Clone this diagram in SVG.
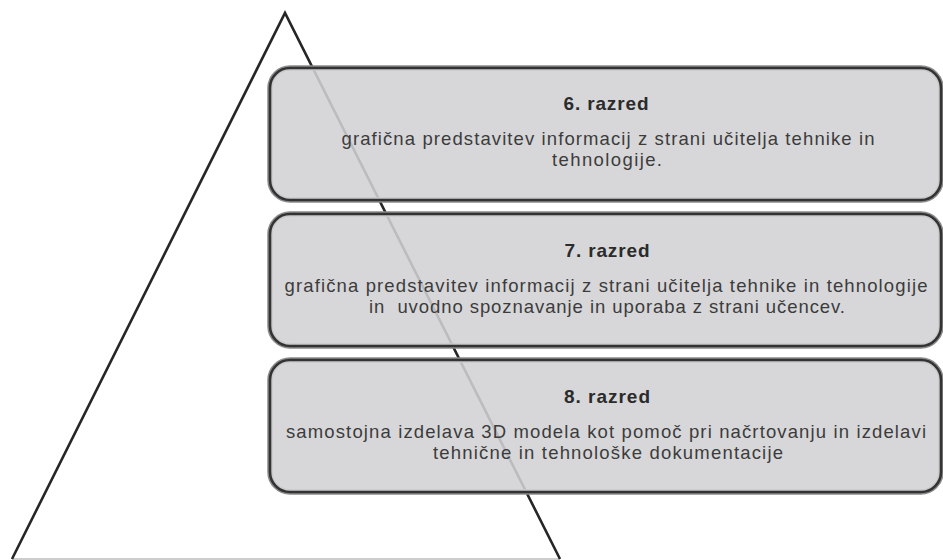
<svg xmlns="http://www.w3.org/2000/svg" width="943" height="560" viewBox="0 0 943 560">
<style>
.tri{fill:none;stroke:#262626;stroke-width:2.6;stroke-linejoin:miter}
.base{stroke:#bdbdbd;stroke-width:1.6}
.halo{fill:none;stroke:#8c8c8c;stroke-width:5.5}
.box{fill:#d1d2d4;fill-opacity:0.88;stroke:#333;stroke-width:2.6}
.t{font-family:"Liberation Sans",Arial,sans-serif;text-anchor:middle;fill:#3c3c3c}
.h{font-size:19px;font-weight:bold;fill:#2b2b2b}
.b{font-size:18.5px}
</style>
<g id="pyramid">
<line class="base" x1="12" y1="559" x2="560" y2="559"/>
<polyline class="tri" points="12,559 285,13 560,559"/>
</g>
<g id="box6">
<rect class="halo" x="270" y="68" width="671" height="132" rx="20"/>
<rect class="box" x="270" y="68" width="671" height="132" rx="20"/>
<text class="t h" x="606" y="110" textLength="85" lengthAdjust="spacing">6. razred</text>
<text class="t b" x="608" y="145" textLength="533" lengthAdjust="spacing">grafična predstavitev informacij z strani učitelja tehnike in</text>
<text class="t b" x="607" y="166" textLength="110" lengthAdjust="spacing">tehnologije.</text>
</g>
<g id="box7">
<rect class="halo" x="270" y="214" width="671" height="132" rx="20"/>
<rect class="box" x="270" y="214" width="671" height="132" rx="20"/>
<text class="t h" x="607" y="257" textLength="85" lengthAdjust="spacing">7. razred</text>
<text class="t b" x="606" y="292" textLength="643" lengthAdjust="spacing">grafična predstavitev informacij z strani učitelja tehnike in tehnologije</text>
<text class="t b" x="607" y="313" textLength="476" lengthAdjust="spacing" xml:space="preserve">in  uvodno spoznavanje in uporaba z strani učencev.</text>
</g>
<g id="box8">
<rect class="halo" x="270" y="360" width="671" height="132" rx="20"/>
<rect class="box" x="270" y="360" width="671" height="132" rx="20"/>
<text class="t h" x="607" y="403" textLength="86" lengthAdjust="spacing">8. razred</text>
<text class="t b" x="606" y="438" textLength="640" lengthAdjust="spacing">samostojna izdelava 3D modela kot pomoč pri načrtovanju in izdelavi</text>
<text class="t b" x="608" y="459" textLength="350" lengthAdjust="spacing">tehnične in tehnološke dokumentacije</text>
</g>
<g id="connectors"></g>
</svg>
